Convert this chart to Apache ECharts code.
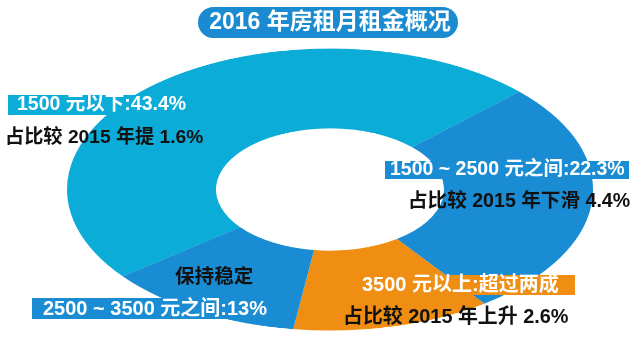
<!DOCTYPE html>
<html>
<head>
<meta charset="utf-8">
<script src="https://cdn.jsdelivr.net/npm/echarts@6/dist/echarts.min.js"></script>
<style>
  html, body { margin: 0; padding: 0; background: #ffffff; overflow: hidden; width: 640px; height: 358px; }
  #pie { position: absolute; left: 0; top: 47.5px; width: 640px; height: 528px; transform: scaleY(0.536); transform-origin: 0 0; }
  #overlay { position: absolute; left: 0; top: 0; width: 640px; height: 358px; }
</style>
</head>
<body>
<div id="pie"></div>
<div id="overlay"></div>
<script>
// ---- data ----
const titleText = '2016 年房租月租金概况';
const categories = ['1500 元以下', '1500 ~ 2500 元之间', '3500 元以上', '2500 ~ 3500 元之间'];
const shareLabels = ['43.4%', '22.3%', '超过两成', '13%'];
const changeLabels = ['占比较 2015 年提 1.6%', '占比较 2015 年下滑 4.4%', '占比较 2015 年上升 2.6%', '保持稳定'];
// slice sizes as drawn in the picture (angular share of the ring)
const drawnShare = [48.3, 27.2, 12.2, 12.2];

const colors = ['#0cacd9', '#1a8cd3', '#ef8e12', '#1a8cd3'];
const FONT = '"Liberation Sans", "Noto Sans CJK SC", sans-serif';

// ---- pie (drawn on a circle, squashed into an ellipse by CSS) ----
const pie = echarts.init(document.getElementById('pie'), null, { renderer: 'canvas' });
pie.setOption({
  animation: false,
  series: [{
    type: 'pie',
    silent: true,
    center: [330, 264],
    radius: [114, 263],
    startAngle: 218,
    clockwise: true,
    label: { show: false },
    labelLine: { show: false },
    itemStyle: { borderWidth: 0 },
    data: categories.map((c, i) => ({ name: c, value: drawnShare[i], itemStyle: { color: colors[i] } }))
  }]
});

// ---- labels overlay ----
const ov = echarts.init(document.getElementById('overlay'), null, { renderer: 'canvas' });
const boxes = [
  { x: 8, y: 95, w: 184, h: 20, c: colors[0] },
  { x: 385, y: 161, w: 244, h: 18, c: colors[1] },
  { x: 360, y: 275, w: 215, h: 20, c: colors[2] },
  { x: 32, y: 298, w: 240, h: 21, c: colors[3] }
];
const catPos = [[17, 105], [390, 170], [362, 285], [43, 309]];
const catSize = [19.5, 19.5, 20, 20];
const chgPos = [[5, 138], [408, 202], [343, 318], [175, 278]];
const chgSize = [19.2, 19.6, 19.9, 19.6];

const elements = [];
elements.push({ type: 'rect', shape: { x: 198, y: 7, width: 260, height: 31, r: 15.5 }, style: { fill: '#1a8bd0' }, z: 10 });
elements.push({ type: 'text', x: 330, y: 23, style: { text: titleText, fill: '#ffffff', font: 'bold 23px ' + FONT, textAlign: 'center', textVerticalAlign: 'middle' }, z: 11 });
boxes.forEach(b => elements.push({ type: 'rect', shape: { x: b.x, y: b.y, width: b.w, height: b.h }, style: { fill: b.c }, z: 10 }));
categories.forEach((c, i) => {
  elements.push({ type: 'text', x: catPos[i][0], y: catPos[i][1],
    style: { text: c + ':' + shareLabels[i], fill: '#ffffff', font: 'bold ' + catSize[i] + 'px ' + FONT, textAlign: 'left', textVerticalAlign: 'middle' }, z: 11 });
  elements.push({ type: 'text', x: chgPos[i][0], y: chgPos[i][1],
    style: { text: changeLabels[i], fill: '#111111', font: 'bold ' + chgSize[i] + 'px ' + FONT, textAlign: 'left', textVerticalAlign: 'middle' }, z: 11 });
});
ov.setOption({ animation: false, graphic: { elements: elements } });
</script>
</body>
</html>
